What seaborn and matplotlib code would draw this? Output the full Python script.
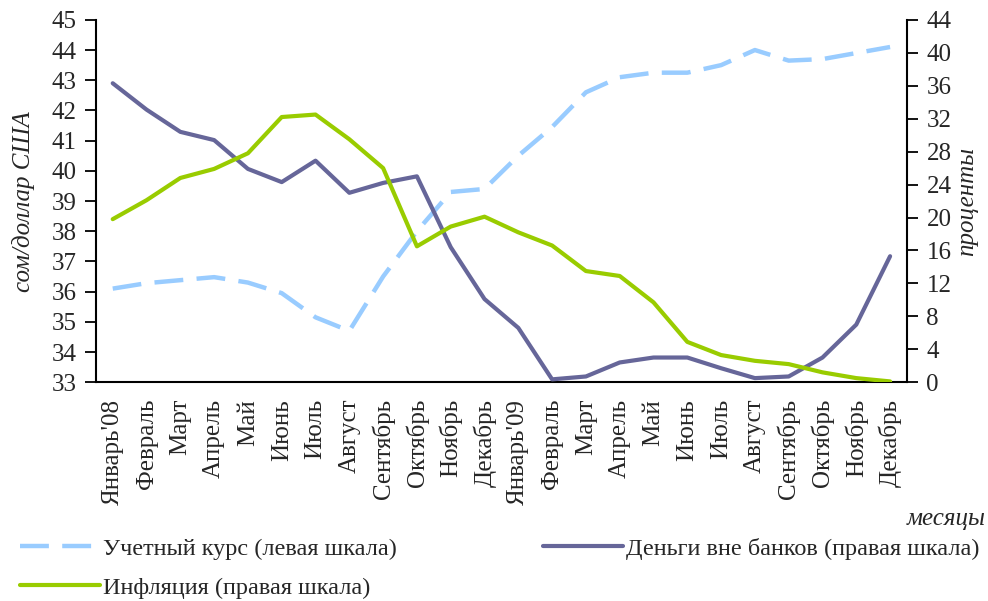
import matplotlib
matplotlib.use("Agg")
import matplotlib.pyplot as plt
import seaborn as sns
import pandas as pd
from matplotlib.lines import Line2D

months = ["Январь'08", "Февраль", "Март", "Апрель", "Май", "Июнь", "Июль",
          "Август", "Сентябрь", "Октябрь", "Ноябрь", "Декабрь",
          "Январь'09", "Февраль", "Март", "Апрель", "Май", "Июнь", "Июль",
          "Август", "Сентябрь", "Октябрь", "Ноябрь", "Декабрь"]

# учетный курс, сом/доллар США (левая шкала)
kurs = [36.1, 36.28, 36.38, 36.48, 36.3, 35.95, 35.15, 34.7, 36.5, 38.0, 39.3, 39.4,
        40.5, 41.45, 42.6, 43.1, 43.25, 43.25, 43.5, 44.0, 43.65, 43.7, 43.9, 44.1]
# деньги вне банков, % (правая шкала)
dengi = [36.3, 33.1, 30.4, 29.4, 25.9, 24.3, 26.9, 23.0, 24.2, 25.0, 16.4, 10.1,
         6.6, 0.35, 0.7, 2.4, 3.0, 3.0, 1.7, 0.5, 0.7, 3.0, 7.0, 15.3]
# инфляция, % (правая шкала)
infl = [19.8, 22.1, 24.8, 25.9, 27.8, 32.2, 32.5, 29.5, 26.0, 16.5, 18.9, 20.1,
        18.2, 16.6, 13.5, 12.9, 9.7, 4.9, 3.3, 2.6, 2.2, 1.2, 0.5, 0.1]

c_kurs = "#99CCFF"
c_dengi = "#666699"
c_infl = "#99CC00"

sns.set_style("white")
plt.rcParams['font.family'] = ['Liberation Serif', 'DejaVu Serif']
plt.rcParams['font.size'] = 18

df = pd.DataFrame({"pos": range(len(months)), "kurs": kurs,
                   "dengi": dengi, "infl": infl})

fig = plt.figure(figsize=(9.88, 6.01), dpi=100)
ax = fig.add_axes([0.097, 0.364, 0.821, 0.603])
ax2 = ax.twinx()

sns.lineplot(data=df, x="pos", y="kurs", ax=ax, color=c_kurs, lw=3.2, legend=False)
ax.lines[0].set_dashes((6.5, 3))
sns.lineplot(data=df, x="pos", y="dengi", ax=ax2, color=c_dengi, lw=3, legend=False)
sns.lineplot(data=df, x="pos", y="infl", ax=ax2, color=c_infl, lw=3, legend=False)

ax.set_xlim(-0.5, len(months) - 0.5)
ax.set_ylim(33, 45)
ax.set_yticks(range(33, 46))
ax2.set_ylim(0, 44)
ax2.set_yticks(range(0, 45, 4))

# подписи месяцев по центру, засечки между категориями
ax.set_xticks(range(len(months)))
ax.set_xticklabels(months, rotation=90)
ax.set_xticks([i - 0.5 for i in range(len(months) + 1)], minor=True)
ax.tick_params(axis="x", which="major", length=0, pad=12)
ax.tick_params(axis="x", which="minor", length=8, width=1.3, direction="out", color="black")
ax.tick_params(axis="y", length=8, width=1.3, direction="out", color="black",
               left=True, pad=6)
ax2.tick_params(axis="y", length=8, width=1.3, direction="out", color="black",
                right=True, pad=6)

for a in (ax, ax2):
    a.set_xlabel("")
    a.set_ylabel("")
    a.spines["top"].set_visible(False)
    for s in ("left", "right", "bottom"):
        a.spines[s].set_color("black")
        a.spines[s].set_linewidth(1.5)
ax.spines["right"].set_visible(False)
ax2.spines["left"].set_visible(False)
ax2.spines["bottom"].set_visible(False)

fig.text(0.024, 0.665, "сом/доллар США", rotation=90, style="italic",
         ha="center", va="center")
fig.text(0.979, 0.665, "проценты", rotation=90, style="italic",
         ha="center", va="center")
fig.text(0.998, 0.137, "месяцы", style="italic", ha="right", va="center")

handles = [Line2D([], [], color=c_kurs, lw=3.2, dashes=(6.5, 3)),
           Line2D([], [], color=c_infl, lw=3),
           Line2D([], [], color=c_dengi, lw=3)]
labels = ["Учетный курс (левая шкала)", "Инфляция (правая шкала)",
          "Деньги вне банков (правая шкала)"]
fig.legend(handles, labels, ncol=2, loc="upper left", bbox_to_anchor=(0.02, 0.105),
           frameon=False, borderpad=0, borderaxespad=0, fontsize=17.5,
           handlelength=3.3, handletextpad=0.12, columnspacing=6.0, labelspacing=0.7)

fig.savefig("out.png", dpi=100)
